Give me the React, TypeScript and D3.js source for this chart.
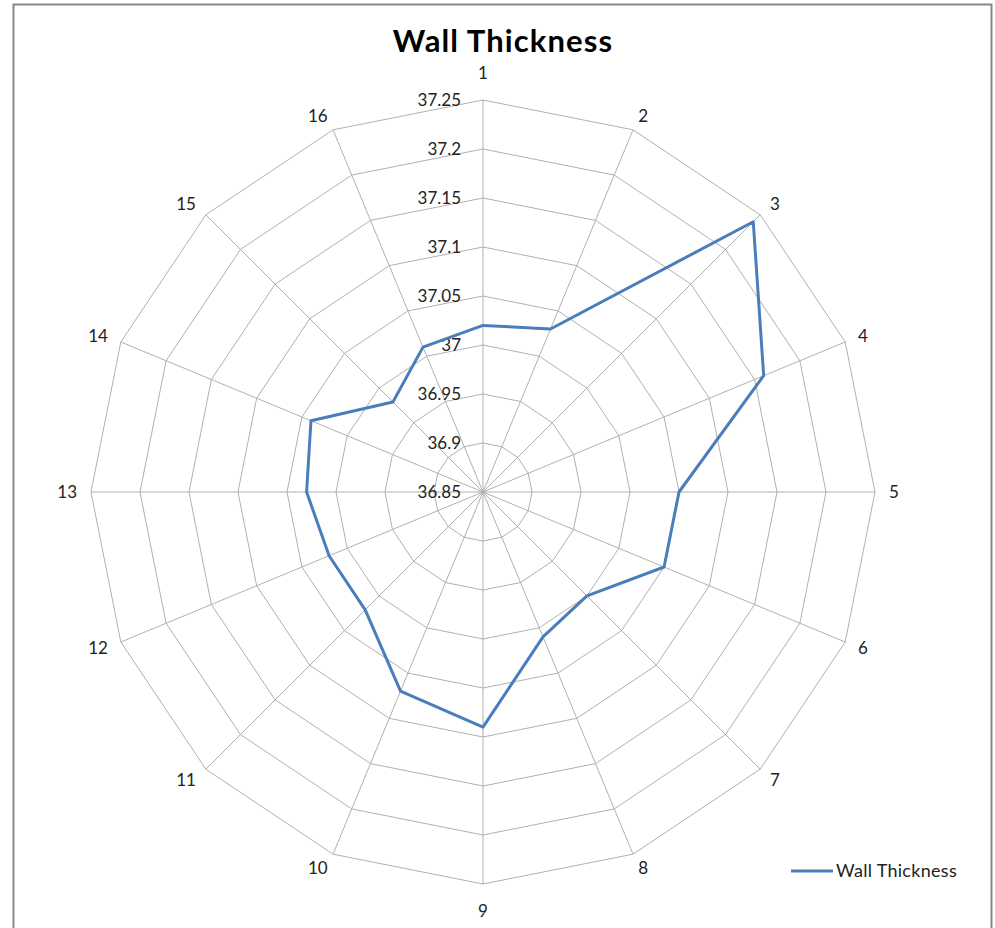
import React, { useEffect, useRef } from 'react';
import * as d3 from 'd3';

const categories = ['1', '2', '3', '4', '5', '6', '7', '8', '9', '10', '11', '12', '13', '14', '15', '16'];
const wallThickness = [37.02, 37.03, 37.24, 37.16, 37.05, 37.05, 37.0, 37.01, 37.09, 37.07, 37.02, 37.02, 37.03, 37.04, 36.98, 37.01];
const ticks = [36.85, 36.9, 36.95, 37, 37.05, 37.1, 37.15, 37.2, 37.25];

const App: React.FC = () => {
  const svgRef = useRef<SVGSVGElement>(null);

  useEffect(() => {
    if (!svgRef.current) return;
    d3.select(svgRef.current).selectAll('*').remove();

    const width = 995;
    const height = 928;
    const cx = 483;
    const cy = 492;
    const radius = 392;
    const font = 'Lato, "Open Sans", sans-serif';

    const svg = d3.select(svgRef.current)
      .attr('width', width)
      .attr('height', height);

    // chart frame
    svg.append('rect')
      .attr('x', 13.5)
      .attr('y', 4.5)
      .attr('width', 978)
      .attr('height', 940)
      .attr('fill', 'white')
      .attr('stroke', '#878787')
      .attr('stroke-width', 2);

    const r = d3.scaleLinear()
      .domain([36.85, 37.25])
      .range([0, radius]);

    const angle = d3.scaleLinear()
      .domain([0, categories.length])
      .range([0, 2 * Math.PI]);

    const pt = (i: number, v: number): [number, number] => {
      const a = angle(i);
      return [cx + r(v) * Math.sin(a), cy - r(v) * Math.cos(a)];
    };

    const g = svg.append('g');

    // rings
    ticks.slice(1).forEach(t => {
      const pts = categories.map((_, i) => pt(i, t));
      g.append('path')
        .attr('d', d3.line()(pts) + 'Z')
        .attr('fill', 'none')
        .attr('stroke', '#b0b0b0')
        .attr('stroke-width', 1);
    });

    // spokes
    categories.forEach((_, i) => {
      const [x, y] = pt(i, 37.25);
      g.append('line')
        .attr('x1', cx)
        .attr('y1', cy)
        .attr('x2', x)
        .attr('y2', y)
        .attr('stroke', '#b0b0b0')
        .attr('stroke-width', 1);
    });

    // value labels
    ticks.forEach(t => {
      g.append('text')
        .attr('x', cx - 22)
        .attr('y', cy - r(t))
        .attr('dy', '0.35em')
        .attr('text-anchor', 'end')
        .style('font-family', font)
        .style('font-size', '17px')
        .attr('fill', '#222')
        .text(d3.format('')(t));
    });

    // category labels, placed just outside each outer vertex
    categories.forEach((c, i) => {
      const a = angle(i);
      const s = Math.sin(a);
      const co = Math.cos(a);
      const [vx, vy] = pt(i, 37.25);
      const label = g.append('text')
        .attr('dy', '0.35em')
        .attr('text-anchor', 'middle')
        .style('font-family', font)
        .style('font-size', '17px')
        .attr('fill', '#222')
        .text(c);
      const w = (label.node() as SVGTextElement).getComputedTextLength();
      const side = Math.abs(s) > 0.1;
      const dx = side ? s * 14 + Math.sign(s) * w / 2 : 0;
      const dy = side ? -co * 15 : -co * 27;
      label.attr('x', vx + dx).attr('y', vy + dy);
    });

    // series
    const pts = wallThickness.map((v, i) => pt(i, v));
    g.append('path')
      .attr('d', d3.line()(pts) + 'Z')
      .attr('fill', 'none')
      .attr('stroke', '#4a7ebb')
      .attr('stroke-width', 3)
      .attr('stroke-linejoin', 'round');

    // title
    svg.append('text')
      .attr('x', 503)
      .attr('y', 52)
      .attr('text-anchor', 'middle')
      .style('font-family', font)
      .style('font-size', '31px')
      .style('font-weight', 'bold')
      .style('letter-spacing', '1.1px')
      .attr('fill', '#000')
      .text('Wall Thickness');

    // legend
    const legend = svg.append('g').attr('transform', 'translate(791, 871)');
    legend.append('line')
      .attr('x1', 0)
      .attr('x2', 42)
      .attr('y1', 0)
      .attr('y2', 0)
      .attr('stroke', '#4a7ebb')
      .attr('stroke-width', 3);
    legend.append('text')
      .attr('x', 45)
      .attr('y', 0)
      .attr('dy', '0.35em')
      .style('font-family', font)
      .style('font-size', '18px')
      .style('letter-spacing', '0.3px')
      .attr('fill', '#222')
      .text('Wall Thickness');
  }, []);

  return (
    <svg ref={svgRef} style={{ position: 'absolute', left: 0, top: 0 }}></svg>
  );
};

export default App;
